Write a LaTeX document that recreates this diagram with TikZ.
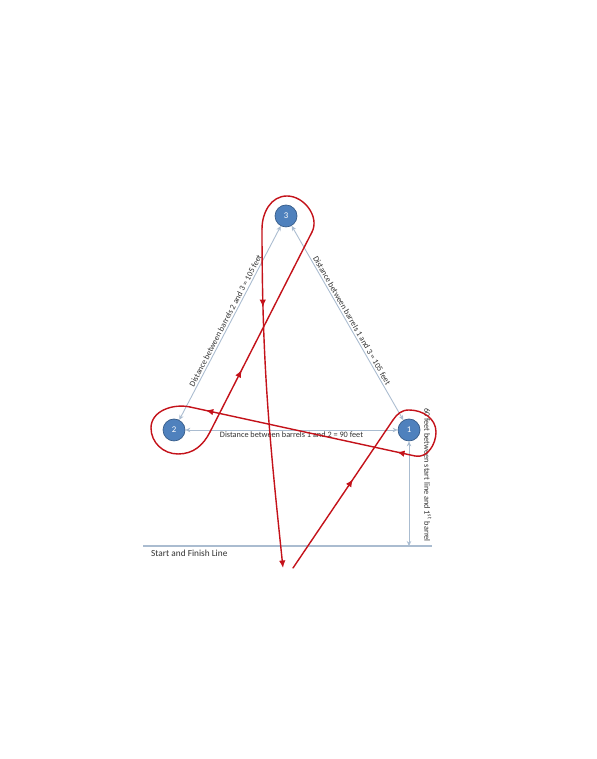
\documentclass[tikz,border=0pt]{standalone}
\usepackage{fontspec}
\setmainfont{Carlito}
\usetikzlibrary{arrows.meta,decorations.markings}
\definecolor{barrelfill}{RGB}{79,129,189}
\definecolor{barreledge}{RGB}{56,93,138}
\definecolor{guide}{RGB}{170,188,208}
\definecolor{route}{RGB}{196,18,26}
\begin{document}
\begin{tikzpicture}[x=0.02cm,y=0.02cm,
  barrel/.style={circle, fill=barrelfill, draw=barreledge, line width=0.4pt, minimum size=0.44cm, inner sep=0pt, text=white, font=\fontsize{5}{6}\selectfont},
  guideline/.style={draw=guide, line width=0.5pt, {Stealth[length=1mm,width=0.9mm]}-{Stealth[length=1mm,width=0.9mm]}},
  dist/.style={font=\fontsize{4.7}{5.5}\selectfont, text=black!80, inner sep=1pt},
  ride/.style={draw=route, line width=0.8pt, line cap=round},
  midarrow/.style={postaction={decorate, decoration={markings, mark=at position #1 with {\arrow{Latex[length=1.5mm,width=1.3mm]}}}}}]
\useasboundingbox (0,0) rectangle (597,759);
\fill[white] (0,0) rectangle (597,759);
\node[barrel] (b3) at (286,543) {3};
\node[barrel] (b2) at (174,329) {2};
\node[barrel] (b1) at (409,329) {1};
\coordinate (sl) at (143,213);
\coordinate (sr) at (432,213);
\coordinate (s1) at (409,213);
\draw[draw=guide, line width=0.6pt] (sl) -- (sr);
\node[anchor=west, font=\fontsize{5.3}{6}\selectfont, text=black!80] (slabel) at (145,206) {Start and Finish Line};
\draw[guideline] (b1) -- (s1);
\node[dist, rotate=-90] (l60) at (428,284) {60 feet between start line and 1\textsuperscript{st} barrel};
\draw[guideline] (b2) -- node[dist, sloped, above] (l23) {Distance between barrels 2 and 3 = 105 feet} (b3);
\draw[guideline] (b3) -- node[dist, sloped, above] (l13) {Distance between barrels 1 and 3 = 105 feet} (b1);
\draw[guideline] (b1) -- node[dist, below] (l12) {Distance between barrels 1 and 2 = 90 feet} (b2);
\coordinate (start) at (293,191);
\coordinate (finish) at (283,191);
\coordinate (a1) at (393,339);
\coordinate (t1) at (409,349);
\coordinate (e1) at (436,327);
\coordinate (b1x) at (415,303);
\coordinate (w2) at (190,352);
\coordinate (l2) at (151,331);
\coordinate (d2) at (178,305);
\coordinate (c0) at (210,327);
\coordinate (c1) at (312,527);
\coordinate (t3) at (287,563);
\coordinate (l3) at (262,530);
\draw[ride, midarrow=0.6] (start) -- (a1);
\draw[ride] (a1) to[out=56,in=180] (t1) to[out=0,in=90] (e1) to[out=-90,in=-12] (b1x);
\draw[ride, midarrow=0.08, midarrow=0.93] (b1x) -- (w2);
\draw[ride] (w2) to[out=168,in=90] (l2) to[out=-90,in=180] (d2) to[out=0,in=243] (c0);
\draw[ride, midarrow=0.31] (c0) -- (c1);
\draw[ride] (c1) to[out=63,in=0] (t3) to[out=180,in=90] (l3);
\draw[ride, midarrow=0.23, -{Latex[length=1.5mm,width=1.3mm]}] (l3) to[out=-90,in=96] (finish);
\end{tikzpicture}
\end{document}
